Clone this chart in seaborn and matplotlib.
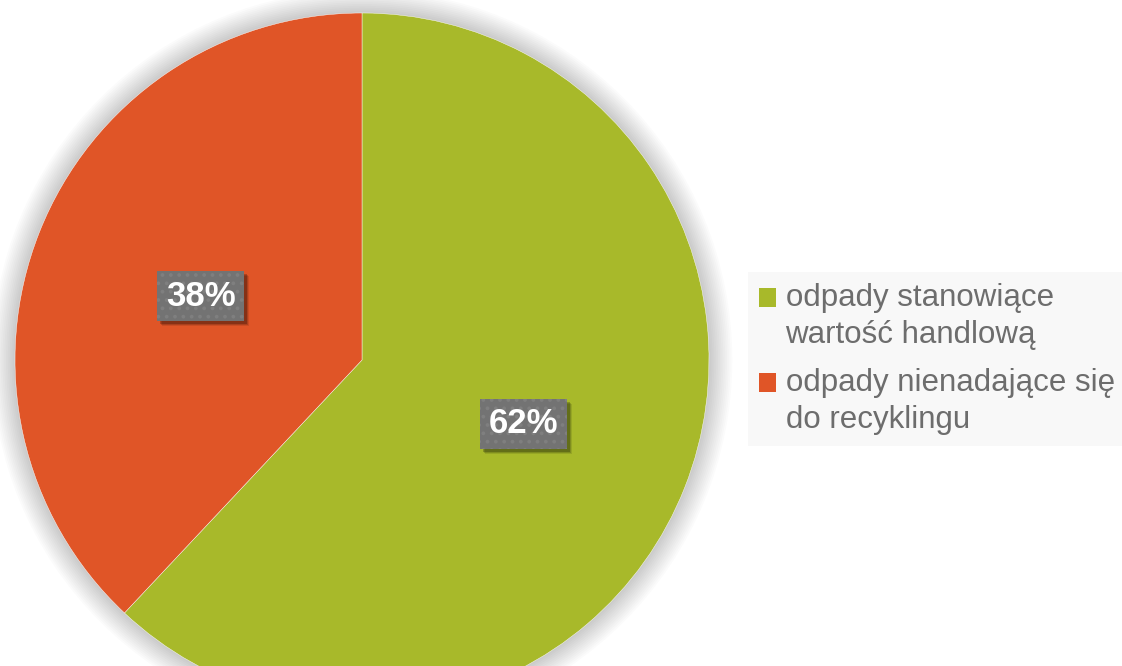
import matplotlib
matplotlib.use("Agg")
import matplotlib.pyplot as plt
from matplotlib.patches import Patch, Rectangle, Circle
from matplotlib.legend_handler import HandlerPatch
from matplotlib.transforms import IdentityTransform
import seaborn as sns

# data
categories = ["odpady stanowiące\nwartość handlową",
              "odpady nienadające się\ndo recyklingu"]
shares = [62, 38]
colors = ["#a8b92a", "#e05527"]

sns.set_theme(style="white")
plt.rcParams["font.family"] = ["Liberation Sans", "DejaVu Sans"]
plt.rcParams["hatch.linewidth"] = 1.5

fig = plt.figure(figsize=(11.22, 6.66), dpi=100)
ax = fig.add_axes([0, 0, 1, 1])

center = (362, 306)
radius = 347

# soft glow round the pie
for k in range(14):
    ax.add_patch(Circle(center, radius + 1.8 * k, color="black",
                        alpha=0.014, lw=0, zorder=0))

wedges, texts, autotexts = ax.pie(
    shares, colors=sns.color_palette(colors), startangle=90, counterclock=False,
    center=center, radius=radius, autopct="%1.0f%%", pctdistance=0.5,
    wedgeprops=dict(edgecolor="white", linewidth=0.3),
    textprops=dict(color="white", fontsize=25, fontweight="bold"),
)
for w in wedges:
    w.set_zorder(2)

for t in autotexts:
    t.set_zorder(5)
    t.set_bbox(dict(boxstyle="square,pad=0.25", linewidth=0,
                    facecolor="#737373", edgecolor="#7f7f7f", hatch=".."))

ax.set_xlim(0, 1122)
ax.set_ylim(0, 666)
ax.set_aspect("equal")
ax.axis("off")

# drop shadow behind each label box, placed from the drawn box in pixels
fig.canvas.draw()
for t in autotexts:
    bb = t.get_bbox_patch().get_window_extent()
    for d, a in [(5, 0.10), (4, 0.15), (3, 0.22)]:
        ax.add_artist(Rectangle((bb.x0 + d, bb.y0 - d), bb.width, bb.height,
                                transform=IdentityTransform(), facecolor="black",
                                alpha=a, lw=0, zorder=4))


def top_square(legend, orig_handle, xdescent, ydescent, width, height, fontsize):
    # square marker level with the first line of a two-line label
    return Rectangle((-xdescent, -ydescent + 0.62 * fontsize), width, height)


handles = [Patch(facecolor=c, edgecolor="none") for c in colors]
leg = ax.legend(
    handles, categories, loc="upper left",
    bbox_to_anchor=(748 / 1122, (666 - 272) / 666), bbox_transform=fig.transFigure,
    fontsize=22.5, frameon=True, fancybox=False, facecolor="#f8f8f8",
    edgecolor="none", framealpha=1, borderaxespad=0, borderpad=0.35,
    handlelength=0.55, handleheight=0.55, handletextpad=0.3, labelspacing=0.6,
    labelcolor="#6d6d6d",
    handler_map={Patch: HandlerPatch(patch_func=top_square)},
)
for t in leg.get_texts():
    t.set_linespacing(1.29)

fig.savefig("out.png", dpi=100)
